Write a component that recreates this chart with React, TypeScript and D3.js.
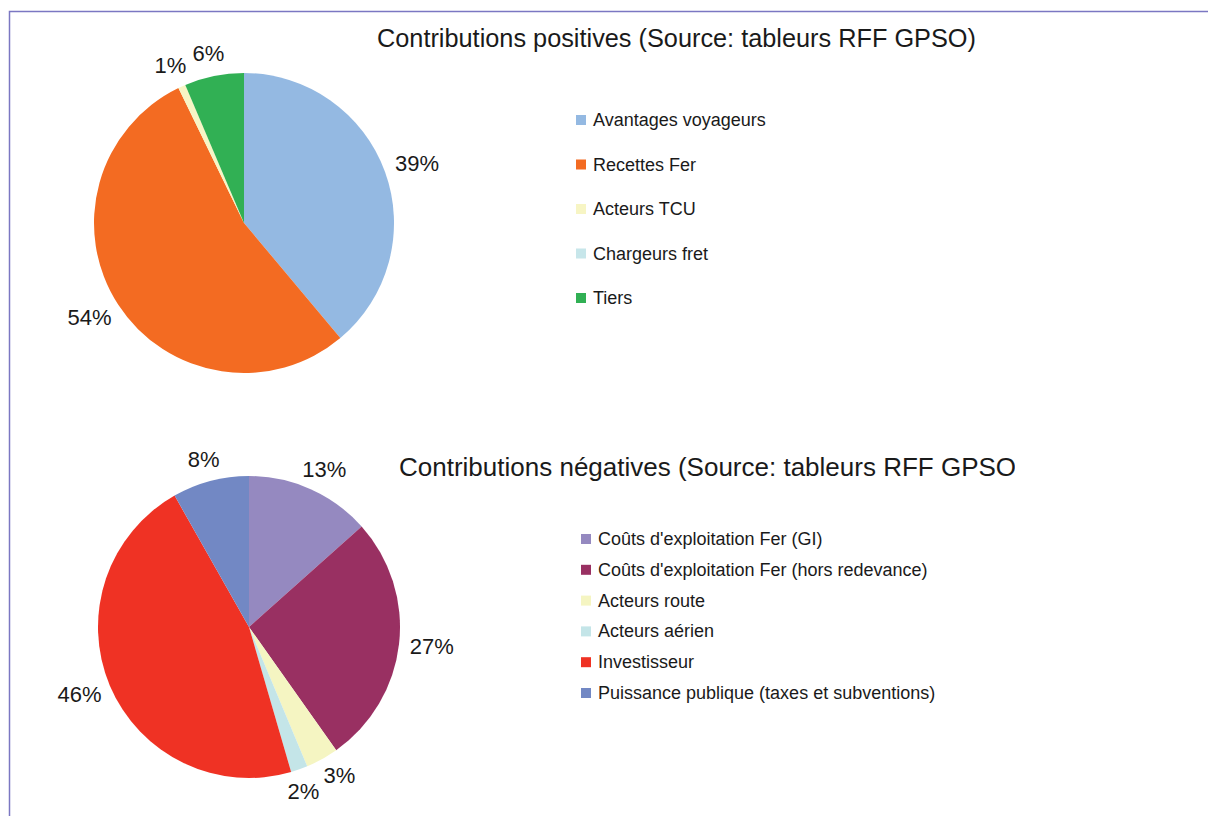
import React from "react";
import * as d3 from "d3";

const posLabels = ["Avantages voyageurs", "Recettes Fer", "Acteurs TCU", "Chargeurs fret", "Tiers"];
const posValues = [38.9, 53.9, 0.8, 0.0, 6.4];
const posColors = ["#94b9e2", "#f36b22", "#f7f5c4", "#c7e6ea", "#31b054"];
const posPct = ["39%", "54%", "1%", "", "6%"];

const negLabels = [
  "Coûts d'exploitation Fer (GI)",
  "Coûts d'exploitation Fer (hors redevance)",
  "Acteurs route",
  "Acteurs aérien",
  "Investisseur",
  "Puissance publique (taxes et subventions)",
];
const negValues = [13.4, 26.8, 3.5, 1.8, 46.3, 8.2];
const negColors = ["#9589c0", "#993062", "#f5f5c2", "#c4e5e8", "#ef3224", "#7288c4"];
const negPct = ["13%", "27%", "3%", "2%", "46%", "8%"];

const FONT = "Arial, 'Liberation Sans', Helvetica, sans-serif";
const PCT_SIZE = 22;

function textW(s: string) {
  let w = 0;
  for (const c of s) w += c === "%" ? 0.889 : 0.556;
  return w * PCT_SIZE;
}

function Pie({ cx, cy, r, values, colors, pct, labelR }: any) {
  const pie = d3.pie<number>().sort(null).value((d) => d);
  const arcs = pie(values);
  const arc = d3.arc<d3.PieArcDatum<number>>().innerRadius(0).outerRadius(r);
  const idx = arcs.map((a, i) => i).filter((i) => pct[i]);
  const ang: number[] = arcs.map((a) => (a.startAngle + a.endAngle) / 2);
  const minSep = 36 / labelR;
  for (let it = 0; it < 50; it++) {
    for (let k = 0; k < idx.length - 1; k++) {
      const i = idx[k], j = idx[k + 1];
      const d = ang[j] - ang[i];
      if (d < minSep) {
        const push = (minSep - d) / 2;
        ang[i] -= push;
        ang[j] += push;
      }
    }
  }
  return (
    <g transform={`translate(${cx},${cy})`}>
      {arcs.map((a, i) =>
        a.value > 0 ? <path key={i} d={arc(a) as string} fill={colors[i]} /> : null
      )}
      {idx.map((i) => {
        const s = Math.sin(ang[i]);
        const c = -Math.cos(ang[i]);
        const w = textW(pct[i]);
        const x = s * labelR + s * (w / 2);
        const y = c * labelR + c * 11;
        return (
          <text key={"t" + i} x={x} y={y} textAnchor="middle" dominantBaseline="central"
            fontFamily={FONT} fontSize={PCT_SIZE} fill="#1a1a1a">
            {pct[i]}
          </text>
        );
      })}
    </g>
  );
}

function Legend({ x, y, step, labels, colors }: any) {
  return (
    <g>
      {labels.map((l: string, i: number) => (
        <g key={i} transform={`translate(${x},${y + i * step})`}>
          <rect x={0} y={-5} width={10} height={10} fill={colors[i]} />
          <text x={17} y={0} dominantBaseline="central" fontFamily={FONT} fontSize={18} fill="#1a1a1a">
            {l}
          </text>
        </g>
      ))}
    </g>
  );
}

export default function App() {
  return (
    <svg width={1208} height={816} style={{ position: "absolute", left: 0, top: 0, background: "#fff" }}>
      <defs>
        <clipPath id="clipNeg">
          <rect x={0} y={0} width={1015} height={816} />
        </clipPath>
      </defs>
      <rect x={0} y={0} width={1208} height={816} fill="#fff" />
      <path d="M9.5,830 V11.5 H1220" fill="none" stroke="#7b77c2" strokeWidth={1.5} />
      <text x={377} y={38} dominantBaseline="central" fontFamily={FONT} fontSize={25.3} fill="#1a1a1a">
        Contributions positives (Source: tableurs RFF GPSO)
      </text>
      <Pie cx={244} cy={223} r={150} values={posValues} colors={posColors} pct={posPct} labelR={162} />
      <Legend x={576} y={120} step={44.5} labels={posLabels} colors={posColors} />

      <text x={399} y={467} dominantBaseline="central" fontFamily={FONT} fontSize={26} fill="#1a1a1a"
        clipPath="url(#clipNeg)">
        Contributions négatives (Source: tableurs RFF GPSO)
      </text>
      <Pie cx={249} cy={627} r={151} values={negValues} colors={negColors} pct={negPct} labelR={162} />
      <Legend x={581} y={539} step={30.8} labels={negLabels} colors={negColors} />
    </svg>
  );
}
